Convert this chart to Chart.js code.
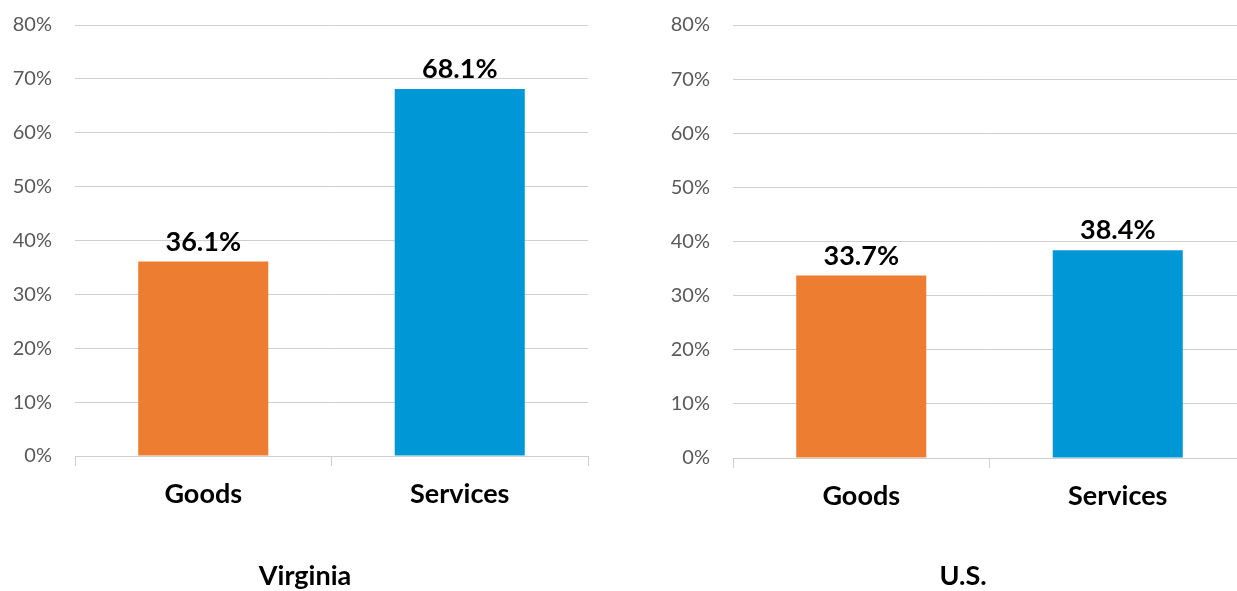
<!DOCTYPE html>
<html>
<head>
<meta charset="utf-8">
<script src="https://cdn.jsdelivr.net/npm/chart.js@4"></script>
<style>
    body { margin: 0; background: #fff; overflow: hidden; }
    .painel { position: absolute; top: 0; }
</style>
</head>
<body>
<canvas id="graficoVirginia" class="painel" width="618" height="591" style="left:0"></canvas>
<canvas id="graficoEUA" class="painel" width="618" height="591" style="left:658px"></canvas>

<script>
// ============================
// DADOS
// ============================
const categorias = ["Goods", "Services"];
const valoresVirginia = [36.1, 68.1];
const valoresEUA = [33.7, 38.4];
const coresBarras = ["#ED7D31", "#0097D6"];
const eixoYMax = 80;
const eixoYPasso = 10;

const fonte = "Lato";
const corGrade = "#cfcfcf";

// ============================
// RÓTULOS DE VALOR ACIMA DAS BARRAS
// ============================
const rotulosValor = {
    id: "rotulosValor",
    afterDatasetsDraw(chart) {
        const ctx = chart.ctx;
        const meta = chart.getDatasetMeta(0);
        const valores = chart.data.datasets[0].data;
        ctx.save();
        ctx.font = `bold 27px ${fonte}`;
        ctx.fillStyle = "#000";
        ctx.textAlign = "center";
        ctx.textBaseline = "alphabetic";
        meta.data.forEach((barra, i) => {
            ctx.fillText(valores[i].toFixed(1) + "%", barra.x, barra.y - 11);
        });
        ctx.restore();
    }
};

// ============================
// NOME DO PAINEL (EMBAIXO)
// ============================
const nomePainel = {
    id: "nomePainel",
    afterDraw(chart, args, opts) {
        const ctx = chart.ctx;
        ctx.save();
        ctx.font = `bold 27px ${fonte}`;
        ctx.fillStyle = "#000";
        ctx.textAlign = "center";
        ctx.textBaseline = "middle";
        ctx.fillText(opts.texto, 305, 576);
        ctx.restore();
    }
};

// ============================
// CRIA UM GRÁFICO
// ============================
function criarGrafico(id, titulo, valores, alturaEixoX) {
    return new Chart(document.getElementById(id), {
        type: "bar",
        data: {
            labels: categorias,
            datasets: [{
                data: valores,
                backgroundColor: coresBarras,
                borderWidth: 0,
                categoryPercentage: 0.507,
                barPercentage: 1
            }]
        },
        options: {
            responsive: false,
            animation: false,
            layout: { padding: { left: 0, right: 30, top: 25, bottom: 0 } },
            plugins: {
                legend: { display: false },
                tooltip: { enabled: false },
                nomePainel: { texto: titulo }
            },
            scales: {
                x: {
                    offset: true,
                    afterFit: (escala) => { escala.height = alturaEixoX; },
                    border: { display: true, color: corGrade, width: 1 },
                    grid: {
                        offset: true,
                        drawOnChartArea: false,
                        drawTicks: true,
                        tickLength: 10,
                        color: corGrade
                    },
                    ticks: {
                        color: "#000",
                        padding: 12,
                        font: { family: fonte, size: 27, weight: "bold" }
                    }
                },
                y: {
                    min: 0,
                    max: eixoYMax,
                    afterFit: (escala) => { escala.width = 75; },
                    border: { display: false },
                    // marcas invisíveis só para afastar os rótulos da grade
                    grid: { color: corGrade, drawTicks: true, tickLength: 22, tickColor: "rgba(0,0,0,0)" },
                    ticks: {
                        stepSize: eixoYPasso,
                        padding: 1,
                        color: "#595959",
                        font: { family: fonte, size: 20 },
                        callback: (v) => v + "%"
                    }
                }
            }
        },
        plugins: [rotulosValor, nomePainel]
    });
}

// ============================
// INICIALIZAÇÃO
// ============================
criarGrafico("graficoVirginia", "Virginia", valoresVirginia, 135);
criarGrafico("graficoEUA", "U.S.", valoresEUA, 133);
</script>
</body>
</html>
